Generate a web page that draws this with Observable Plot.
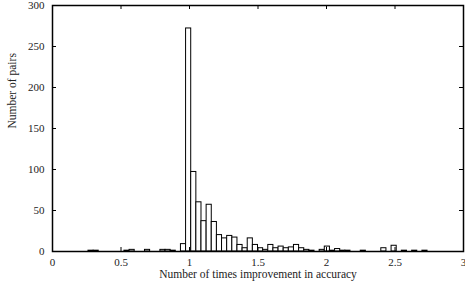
<!DOCTYPE html>
<html>
<head>
<meta charset="utf-8">
<script src="https://cdn.jsdelivr.net/npm/d3@7"></script>
<script src="https://cdn.jsdelivr.net/npm/@observablehq/plot@0.6"></script>
<style>
  html, body { margin: 0; padding: 0; background: #fff; }
</style>
</head>
<body>
<div id="chart"></div>
<script>
// Histogram bins (left edge of each bin) and counts
const binWidth = 0.0375;
const binStart = [0.2625, 0.3, 0.525, 0.5625, 0.675, 0.7875, 0.825, 0.8625, 0.9375, 0.975,
  1.0125, 1.05, 1.0875, 1.125, 1.1625, 1.2, 1.2375, 1.275, 1.3125, 1.35,
  1.3875, 1.425, 1.4625, 1.5, 1.5375, 1.575, 1.6125, 1.65, 1.6875, 1.725,
  1.7625, 1.8, 1.8375, 1.875, 1.95, 1.9875, 2.025, 2.0625, 2.1, 2.1375,
  2.25, 2.4, 2.475, 2.55, 2.625, 2.7];
const counts = [1, 1, 1, 2, 2, 2, 2, 1, 9, 272,
  97, 60, 37, 57, 36, 20, 16, 19, 17, 8,
  4, 16, 8, 4, 2, 8, 4, 6, 4, 5,
  8, 4, 2, 1, 2, 6, 1, 3, 1, 1,
  1, 4, 7, 1, 1, 1];
const xTicks = [0, 0.5, 1, 1.5, 2, 2.5, 3];
const yTicks = [0, 50, 100, 150, 200, 250, 300];
const xLabel = "Number of times improvement in accuracy";
const yLabel = "Number of pairs";

const W = 465, H = 289;
const mL = 52, mR = 2, mT = 5, mB = 38;
const plotW = W - mL - mR, plotH = H - mT - mB;
const tickLen = 4;

const bins = binStart.map((x, i) => ({x1: x, x2: x + binWidth, count: counts[i]}));

const chart = Plot.plot({
  width: W,
  height: H,
  marginLeft: mL,
  marginRight: mR,
  marginTop: mT,
  marginBottom: mB,
  style: {fontFamily: "'Liberation Serif', 'DejaVu Serif', serif", fontSize: "11px", background: "#fff", color: "#000"},
  x: {domain: [0, 3]},
  y: {domain: [0, 300]},
  marks: [
    Plot.rectY(bins, {x1: "x1", x2: "x2", y: "count", fill: "white", stroke: "black", strokeWidth: 1}),
    // inward ticks on all four sides
    Plot.tickX(xTicks, {x: d => d, stroke: "black", strokeWidth: 1, insetTop: plotH - tickLen}),
    Plot.tickX(xTicks, {x: d => d, stroke: "black", strokeWidth: 1, insetBottom: plotH - tickLen}),
    Plot.tickY(yTicks, {y: d => d, stroke: "black", strokeWidth: 1, insetRight: plotW - tickLen}),
    Plot.tickY(yTicks, {y: d => d, stroke: "black", strokeWidth: 1, insetLeft: plotW - tickLen}),
    Plot.axisX(xTicks, {anchor: "bottom", tickSize: 0, tickPadding: 7, label: null, fill: "#222", tickFormat: d => String(d)}),
    Plot.axisY(yTicks, {anchor: "left", tickSize: 0, tickPadding: 8, label: null, fill: "#222", tickFormat: d => String(d)}),
    Plot.frame({stroke: "black", strokeWidth: 1.5}),
    Plot.text([xLabel], {frameAnchor: "bottom", dy: 26, fill: "#222", fontSize: 11.5}),
    Plot.text([yLabel], {frameAnchor: "left", rotate: -90, dx: -40, fill: "#222", fontSize: 11.5})
  ]
});
document.getElementById("chart").appendChild(chart);
</script>
</body>
</html>
